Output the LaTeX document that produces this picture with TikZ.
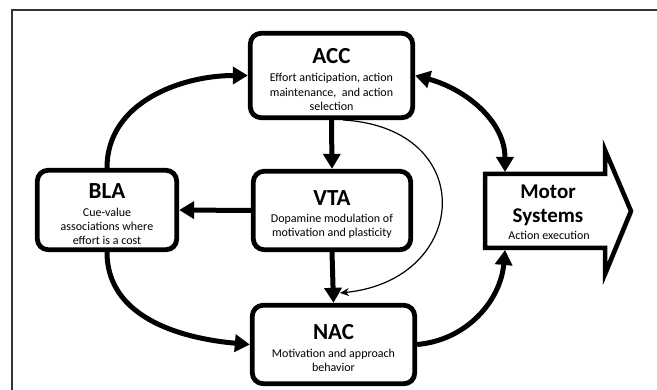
\documentclass[tikz,border=0pt]{standalone}
\usepackage{fontspec}
\setmainfont{Carlito}
\usetikzlibrary{arrows.meta,shadows}
\tikzset{
  box/.style={draw=black,line width=4.8pt,rounded corners=11pt,fill=white,
    drop shadow={shadow xshift=2pt,shadow yshift=-2pt,opacity=0.3,fill=black}},
  ttl/.style={font=\fontsize{23}{27}\selectfont\bfseries,inner sep=0pt},
  bdy/.style={font=\fontsize{12}{14.3}\selectfont,align=center,inner sep=0pt},
  big/.style={line width=5pt,-{Triangle[length=15pt,width=17pt]}},
  bigboth/.style={line width=5pt,{Triangle[length=15pt,width=17pt]}-{Triangle[length=15pt,width=17pt]}},
  thin/.style={line width=1.2pt,-{Stealth[length=9pt,width=8pt]}},
  frameline/.style={line width=1.3pt,draw=black!80}
}
\begin{document}
\begin{tikzpicture}[x=1pt,y=1pt]
\useasboundingbox (0,0) rectangle (657,390);
\draw[frameline] (12,0) -- (12,380) -- (657,380);

% boxes
\node[box,minimum width=162.5pt,minimum height=84.5pt] (acc) at (331.5,314.5) {};
\node[box,minimum width=139.5pt,minimum height=79.5pt] (bla) at (107,180) {};
\node[box,minimum width=157.5pt,minimum height=78.5pt] (vta) at (332,179.5) {};
\node[box,minimum width=162.5pt,minimum height=78.5pt] (nac) at (333.5,45.5) {};

% motor systems arrow shape
\draw[line width=4.5pt,line join=miter,fill=white,
  drop shadow={shadow xshift=2pt,shadow yshift=-2pt,opacity=0.3,fill=black}]
  (485,216) -- (605,216) -- (605,240) -- (631,179) -- (605,116) -- (605,142) -- (485,142) -- cycle;
\coordinate (mtop) at (505,218);
\coordinate (mbot) at (505,140);

% texts
\node[ttl] (acct) at (331.5,334) {ACC};
\node[bdy] (accb) at (331.5,298) {Effort anticipation, action\\maintenance,\ \ and action\\selection};
\node[ttl] (blat) at (107,199) {BLA};
\node[bdy] (blab) at (107,163.5) {Cue-value\\associations where\\effort is a cost};
\node[ttl] (vtat) at (332,192) {VTA};
\node[bdy] (vtab) at (332,164) {Dopamine modulation of\\motivation and plasticity};
\node[ttl] (nact) at (333.5,58) {NAC};
\node[bdy] (nacb) at (333.5,29.5) {Motivation and approach\\behavior};
\node[font=\fontsize{21}{24}\selectfont\bfseries,align=center,inner sep=0pt] (mott) at (548,185) {Motor\\Systems};
\node[bdy] (motb) at (549,155) {Action execution};

% connectors
\draw[big] (acc.south) -- (vta.north);
\draw[big] (vta.south) -- (nac.north);
\draw[big] (vta.west) -- (bla.east);
\draw[big] (bla.north) to[out=90,in=180] (acc.west);
\draw[big] (bla.south) to[out=-90,in=175] (nac.west);
\draw[bigboth] (acc.east) to[out=-15,in=90] (mtop);
\draw[big] (nac.east) to[out=5,in=-95] (mbot);
\coordinate (thinstart) at (343,270);
\coordinate (thinend) at (340,97);
\draw[thin] (thinstart) .. controls (480,262) and (470,110) .. (thinend);
\end{tikzpicture}
\end{document}
